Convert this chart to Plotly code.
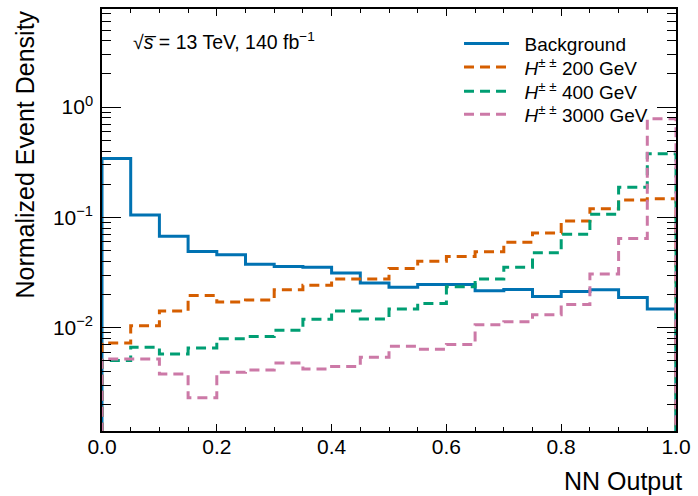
import plotly.graph_objects as go

bin_edges = [round(i * 0.05, 2) for i in range(21)]

background = [0.343, 0.105, 0.0676, 0.049, 0.0458, 0.0377, 0.0359, 0.0354, 0.0313, 0.0254,
              0.0233, 0.0247, 0.0247, 0.0216, 0.0222, 0.0192, 0.0213, 0.0221, 0.0188, 0.0148]
h200 = [0.00727, 0.0104, 0.0142, 0.0196, 0.0171, 0.0178, 0.0221, 0.0243, 0.0276, 0.0276,
        0.0344, 0.0401, 0.0442, 0.0487, 0.0596, 0.0724, 0.0929, 0.120, 0.144, 0.148]
h400 = [0.00503, 0.00663, 0.00578, 0.00655, 0.00795, 0.0083, 0.00946, 0.0119, 0.0142, 0.0120,
        0.0148, 0.0166, 0.0235, 0.0276, 0.0354, 0.0477, 0.0705, 0.107, 0.1875, 0.378]
h3000 = [0.0052, 0.0052, 0.00381, 0.00231, 0.00394, 0.00414, 0.00479, 0.00423, 0.00444, 0.00539,
         0.00678, 0.00637, 0.00702, 0.01064, 0.0113, 0.0131, 0.0162, 0.0306, 0.0643, 0.783]

series_names = ["Background", "<i>H</i><sup>± ±</sup> 200 GeV",
                "<i>H</i><sup>± ±</sup> 400 GeV", "<i>H</i><sup>± ±</sup> 3000 GeV"]
series_values = [background, h200, h400, h3000]
series_colors = ["#0072B2", "#D55E00", "#009E73", "#CC79A7"]
series_dash = ["solid", "10px,6px", "10px,6px", "10px,6px"]

y_tickvals = [0.01, 0.1, 1]
y_ticktext = ["10<sup>−2</sup>", "10<sup>−1</sup>", "10<sup>0</sup>"]
x_tickvals = [0.0, 0.2, 0.4, 0.6, 0.8, 1.0]
x_range = [0, 1]
y_range_log = [-2.937, 0.890]

FONT = "Liberation Sans, Arial, Helvetica, sans-serif"
floor = 1e-6
NBSP = "\u00a0"

legend_ids = ["legend", "legend2", "legend3", "legend4"]
legend_y = [0.918, 0.862, 0.805, 0.750]

fig = go.Figure()
for name, vals, col, dash, lid in zip(series_names, series_values, series_colors,
                                      series_dash, legend_ids):
    xs = [bin_edges[0]] + bin_edges + [bin_edges[-1]]
    ys = [floor] + vals + [vals[-1], floor]
    fig.add_trace(go.Scatter(x=xs, y=ys, mode="lines", name=NBSP * 2 + name, legend=lid,
                             line=dict(color=col, width=3, dash=dash, shape="hv")))

# invisible helper trace so the mirrored (top/right) tick axes are drawn
fig.add_trace(go.Scatter(x=[0.5], y=[0.1], mode="lines", xaxis="x2", yaxis="y2",
                         showlegend=False, hoverinfo="skip", line=dict(width=0)))

tickfont = dict(family=FONT, size=21, color="black")
common = dict(ticks="inside", tickcolor="black", tickwidth=1.2, showgrid=False, zeroline=False)

fig.update_layout(
    xaxis=dict(range=x_range, tickvals=x_tickvals, tickformat=".1f", ticklen=7,
               showline=True, linecolor="black", linewidth=1.5, mirror=True,
               tickfont=tickfont, ticklabelstandoff=-4,
               minor=dict(ticks="inside", ticklen=4, dtick=0.05, tick0=0,
                          tickcolor="black", tickwidth=1.2, showgrid=False),
               **common),
    yaxis=dict(type="log", range=y_range_log, tickvals=y_tickvals, ticktext=y_ticktext,
               ticklen=19, showline=True, linecolor="black", linewidth=1.5, mirror=True,
               tickfont=tickfont, ticklabelstandoff=3,
               minor=dict(ticks="inside", ticklen=9, dtick="D1",
                          tickcolor="black", tickwidth=1.2, showgrid=False),
               **common),
    xaxis2=dict(overlaying="x", side="top", anchor="y", range=x_range, tickvals=x_tickvals,
                ticklen=7, showticklabels=False, showline=False,
                minor=dict(ticks="inside", ticklen=4, dtick=0.05, tick0=0,
                           tickcolor="black", tickwidth=1.2, showgrid=False),
                **common),
    yaxis2=dict(overlaying="y", side="right", anchor="x", type="log", range=y_range_log,
                tickvals=y_tickvals, ticklen=19, showticklabels=False, showline=False,
                minor=dict(ticks="inside", ticklen=9, dtick="D1",
                           tickcolor="black", tickwidth=1.2, showgrid=False),
                **common),
)

fig.add_annotation(text="NN Output", xref="paper", yref="paper", x=1.0, y=-0.118,
                   xanchor="right", yanchor="middle", xshift=8, showarrow=False,
                   font=dict(family=FONT, size=25, color="black"))
fig.add_annotation(text="Normalized Event Density", xref="paper", yref="paper",
                   x=-0.135, y=1.0, xanchor="center", yanchor="top", textangle=-90,
                   showarrow=False, font=dict(family=FONT, size=25, color="black"))
fig.add_annotation(text="√<i>s\u0305</i> = 13 TeV, 140 fb<sup>−1</sup>",
                   xref="paper", yref="paper", x=0.05, y=0.925, xanchor="left", yanchor="middle",
                   showarrow=False, font=dict(family=FONT, size=19.5, color="black"))

legend_style = dict(x=0.622, xanchor="left", yanchor="middle", bgcolor="rgba(0,0,0,0)",
                    font=dict(family=FONT, size=19, color="black"), itemwidth=45,
                    tracegroupgap=0)
fig.update_layout(width=698, height=496, margin=dict(l=101.5, r=16.5, t=7.5, b=65),
                  paper_bgcolor="white", plot_bgcolor="white",
                  font=dict(family=FONT, size=19, color="black"),
                  **{lid: dict(y=ly, **legend_style) for lid, ly in zip(legend_ids, legend_y)})

fig.write_html("out.html")
